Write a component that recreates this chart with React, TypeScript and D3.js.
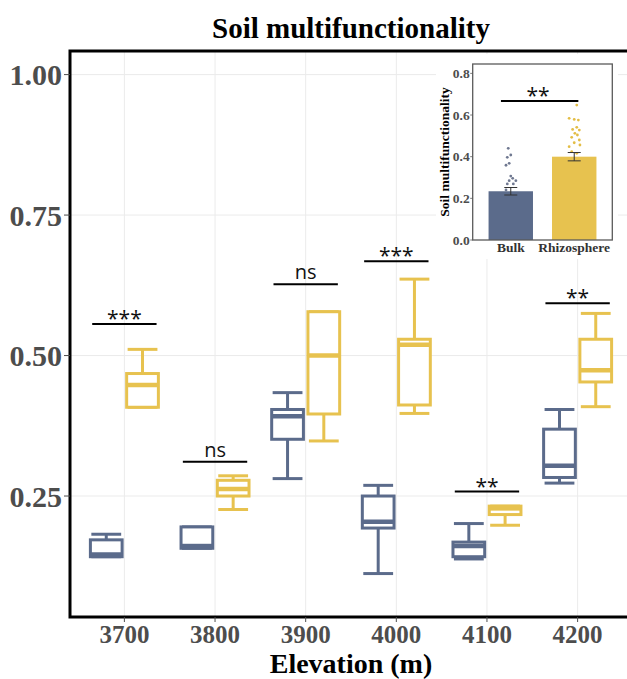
import React from "react";
import * as d3 from "d3";

const elevations = ["3700", "3800", "3900", "4000", "4100", "4200"];

const bulkMin = [0.142, 0.157, 0.281, 0.112, 0.138, 0.273];
const bulkQ1 = [0.142, 0.157, 0.351, 0.193, 0.142, 0.283];
const bulkMed = [0.146, 0.161, 0.392, 0.204, 0.161, 0.304];
const bulkQ3 = [0.172, 0.195, 0.404, 0.25, 0.168, 0.369];
const bulkMax = [0.182, 0.195, 0.434, 0.269, 0.201, 0.404];

const rhizoMin = [0.408, 0.226, 0.348, 0.397, 0.198, 0.409];
const rhizoQ1 = [0.408, 0.25, 0.396, 0.412, 0.217, 0.453];
const rhizoMed = [0.4475, 0.2625, 0.5, 0.519, 0.228, 0.474];
const rhizoQ3 = [0.468, 0.278, 0.578, 0.529, 0.232, 0.529];
const rhizoMax = [0.511, 0.286, 0.578, 0.636, 0.232, 0.575];

const sigY = [0.556, 0.311, 0.627, 0.668, 0.258, 0.593];
const sigLabels = ["***", "ns", "ns", "***", "**", "**"];

const yTicks = [0.25, 0.5, 0.75, 1.0];

const insetGroups = ["Bulk", "Rhizosphere"];
const insetMeans = [0.234, 0.4];
const insetSE = [0.018, 0.02];
const insetTicks = [0, 0.2, 0.4, 0.6, 0.8];
const insetSigY = 0.667;
const insetSigLabel = "**";

const bulkPoints = [0.44, 0.408, 0.397, 0.359, 0.368, 0.307, 0.296, 0.285, 0.285, 0.269, 0.269, 0.24];
const bulkJitter = [-0.04, 0, -0.055, -0.075, -0.025, 0, 0.03, -0.025, 0.08, 0.04, -0.055, -0.075];
const rhizoPoints = [0.648, 0.584, 0.579, 0.576, 0.541, 0.531, 0.528, 0.512, 0.504, 0.493, 0.48, 0.467, 0.456, 0.448, 0.424, 0.416];
const rhizoJitter = [0.04, -0.08, 0, 0.065, 0.04, -0.025, 0.08, 0.01, 0.05, -0.04, 0.08, 0, 0.09, -0.08, -0.04, 0.04];

const BLUE = "#5b6b8b";
const YELLOW = "#e7c24f";
const SERIF = "'Liberation Serif', 'Times New Roman', serif";
const SANS = "'Open Sans', 'Noto Sans', sans-serif";

const W = 627;
const H = 679;

function Box({ cx, w, s, color }: { cx: number; w: number; s: number[]; color: string }) {
  const [mn, q1, md, q3, mx] = s;
  const cap = w * 0.94;
  return (
    <g stroke={color} fill="none">
      <line x1={cx} x2={cx} y1={mx} y2={q3} strokeWidth={3} />
      <line x1={cx} x2={cx} y1={q1} y2={mn} strokeWidth={3} />
      <line x1={cx - cap / 2} x2={cx + cap / 2} y1={mx} y2={mx} strokeWidth={3} />
      <line x1={cx - cap / 2} x2={cx + cap / 2} y1={mn} y2={mn} strokeWidth={3} />
      <rect x={cx - w / 2} y={q3} width={w} height={Math.max(0.01, q1 - q3)} fill="#fff" strokeWidth={3} />
      <line x1={cx - w / 2} x2={cx + w / 2} y1={md} y2={md} strokeWidth={4.5} />
    </g>
  );
}

export default function App() {
  const left = 70, right = 632, top = 51, bottom = 617;
  const x = d3.scalePoint<string>().domain(elevations).range([left, right]).padding(0.6);
  const step = x.step();
  const y = d3.scaleLinear().domain([0.0347, 1.042]).range([bottom, top]);
  const dodge = 0.2 * step;
  const boxW = 0.35 * step;

  // inset
  const iL = 472.7, iR = 612.3, iT = 64, iB = 240;
  const xi = d3.scalePoint<string>().domain(insetGroups).range([iL, iR]).padding(0.6);
  const istep = xi.step();
  const yi = d3.scaleLinear().domain([0, 0.845]).range([iB, iT]);
  const barW = 0.7 * istep;
  const insetColors = [BLUE, YELLOW];

  return (
    <svg width={W} height={H} style={{ position: "absolute", left: 0, top: 0, background: "#fff" }}>
      <rect x={0} y={0} width={W} height={H} fill="#fff" />
      <text x={(left + right) / 2} y={38} textAnchor="middle" fontFamily={SERIF} fontWeight="bold" fontSize={29} fill="#000">
        Soil multifunctionality
      </text>
      {/* gridlines */}
      <g stroke="#ebebeb" strokeWidth={1}>
        {yTicks.map((t) => (
          <line key={"gy" + t} x1={left} x2={right} y1={y(t)} y2={y(t)} />
        ))}
        {elevations.map((e) => (
          <line key={"gx" + e} x1={x(e)} x2={x(e)} y1={top} y2={bottom} />
        ))}
      </g>
      {/* boxes */}
      {elevations.map((e, i) => {
        const cx = x(e)!;
        const bs = [bulkMin[i], bulkQ1[i], bulkMed[i], bulkQ3[i], bulkMax[i]].map((v) => y(v));
        const rs = [rhizoMin[i], rhizoQ1[i], rhizoMed[i], rhizoQ3[i], rhizoMax[i]].map((v) => y(v));
        return (
          <g key={"b" + e}>
            <Box cx={cx - dodge} w={boxW} s={bs} color={BLUE} />
            <Box cx={cx + dodge} w={boxW} s={rs} color={YELLOW} />
          </g>
        );
      })}
      {/* significance */}
      {elevations.map((e, i) => {
        const cx = x(e)!;
        const ly = y(sigY[i]);
        const isNs = sigLabels[i] === "ns";
        return (
          <g key={"s" + e}>
            <line x1={cx - 0.355 * step} x2={cx + 0.355 * step} y1={ly} y2={ly} stroke="#000" strokeWidth={2} />
            <text x={cx} y={isNs ? ly - 5 : ly + 2} textAnchor="middle" fontFamily={SANS} fontSize={isNs ? 20 : 21} fill="#111">
              {sigLabels[i]}
            </text>
          </g>
        );
      })}
      {/* panel border */}
      <rect x={left} y={top} width={right - left} height={bottom - top} fill="none" stroke="#000" strokeWidth={3} />
      {/* y axis */}
      {yTicks.map((t) => (
        <g key={"yt" + t}>
          <line x1={left - 6} x2={left} y1={y(t)} y2={y(t)} stroke="#4d4d4d" strokeWidth={1} />
          <text x={left - 8} y={y(t) + 10.5} textAnchor="end" fontFamily={SERIF} fontWeight="bold" fontSize={30} fill="#4d4d4d">
            {d3.format(".2f")(t)}
          </text>
        </g>
      ))}
      {/* x axis */}
      {elevations.map((e) => (
        <g key={"xt" + e}>
          <line x1={x(e)} x2={x(e)} y1={bottom} y2={bottom + 5} stroke="#4d4d4d" strokeWidth={1} />
          <text x={x(e)} y={643} textAnchor="middle" fontFamily={SERIF} fontWeight="bold" fontSize={25} fill="#4d4d4d">
            {e}
          </text>
        </g>
      ))}
      <text x={(left + right) / 2} y={673} textAnchor="middle" fontFamily={SERIF} fontWeight="bold" fontSize={28} fill="#000">
        Elevation (m)
      </text>

      {/* inset */}
      <rect x={436} y={54} width={182} height={205} fill="#fff" />
      {insetGroups.map((g, i) => {
        const cx = xi(g)!;
        return (
          <g key={"ib" + g}>
            <rect x={cx - barW / 2} y={yi(insetMeans[i])} width={barW} height={iB - yi(insetMeans[i])} fill={insetColors[i]} />
          </g>
        );
      })}
      {bulkPoints.map((v, k) => (
        <circle key={"bp" + k} cx={xi("Bulk")! + bulkJitter[k] * istep} cy={yi(v)} r={1.4} fill="#6f7890" />
      ))}
      {rhizoPoints.map((v, k) => (
        <circle key={"rp" + k} cx={xi("Rhizosphere")! + rhizoJitter[k] * istep} cy={yi(v)} r={1.4} fill="#e3bd45" />
      ))}
      {insetGroups.map((g, i) => {
        const cx = xi(g)!;
        const y1 = yi(insetMeans[i] + insetSE[i]);
        const y2 = yi(insetMeans[i] - insetSE[i]);
        return (
          <g key={"ie" + g} stroke="#333" strokeWidth={1}>
            <line x1={cx} x2={cx} y1={y1} y2={y2} />
            <line x1={cx - 6.5} x2={cx + 6.5} y1={y1} y2={y1} />
            <line x1={cx - 6.5} x2={cx + 6.5} y1={y2} y2={y2} />
          </g>
        );
      })}
      <line x1={xi("Bulk")! - 0.155 * istep} x2={xi("Rhizosphere")! + 0.065 * istep} y1={yi(insetSigY)} y2={yi(insetSigY)} stroke="#000" strokeWidth={2} />
      <text x={538} y={yi(insetSigY) + 2} textAnchor="middle" fontFamily={SANS} fontSize={21} fill="#111">
        {insetSigLabel}
      </text>
      <rect x={iL} y={iT} width={iR - iL} height={iB - iT} fill="none" stroke="#5a5a5a" strokeWidth={1.3} />
      {insetTicks.map((t) => (
        <g key={"it" + t}>
          <line x1={iL - 2.5} x2={iL} y1={yi(t)} y2={yi(t)} stroke="#5a5a5a" strokeWidth={0.8} />
          <text x={iL - 3} y={yi(t) + 4.5} textAnchor="end" fontFamily={SERIF} fontWeight="bold" fontSize={13.5} fill="#4d4d4d">
            {d3.format(".1f")(t)}
          </text>
        </g>
      ))}
      {insetGroups.map((g) => (
        <text key={"il" + g} x={xi(g)} y={251.5} textAnchor="middle" fontFamily={SERIF} fontWeight="bold" fontSize={13.5} fill="#333">
          {g}
        </text>
      ))}
      <text transform={`translate(449, ${(iT + iB) / 2}) rotate(-90)`} textAnchor="middle" fontFamily={SERIF} fontWeight="bold" fontSize={13.5} fill="#000">
        Soil multifunctionality
      </text>
    </svg>
  );
}
